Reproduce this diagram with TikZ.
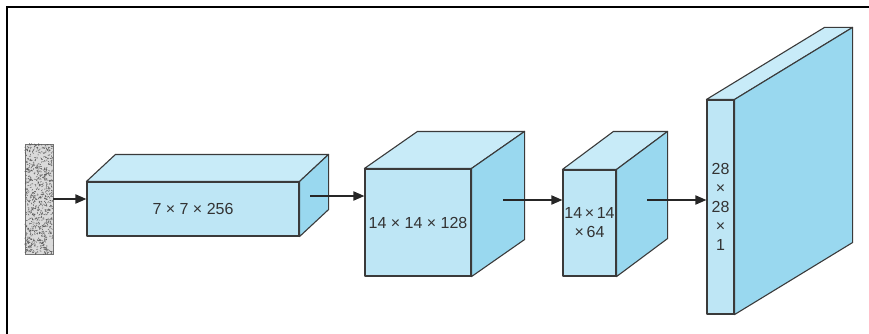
\documentclass[tikz,border=0pt]{standalone}
\usepackage{fontspec}
\setmainfont{Liberation Sans}
\usetikzlibrary{arrows.meta}
\definecolor{frontblue}{HTML}{BEE6F5}
\definecolor{topblue}{HTML}{C8EBF8}
\definecolor{sideblue}{HTML}{99D8EF}
\definecolor{edgegray}{HTML}{3A3A3A}
\definecolor{labelgray}{HTML}{333333}
\definecolor{grainbase}{HTML}{DADADA}

% top and side faces of a cuboid whose front face is node #1,
% receding by the offset (#2,#3)
\newcommand\depthfaces[3]{%
  \draw[face, fill=topblue] (#1.north west) -- ++(#2,#3)
    -- ([shift={(#2,#3)}]#1.north east) -- (#1.north east) -- cycle;
  \draw[face, fill=sideblue] (#1.north east) -- ++(#2,#3)
    -- ([shift={(#2,#3)}]#1.south east) -- (#1.south east) -- cycle;
}

\begin{document}
\begin{tikzpicture}[x=1pt,y=-1pt,
  face/.style={draw=edgegray, line width=1.1pt, line join=round},
  front/.style={face, fill=frontblue, rectangle, inner sep=0pt,
    text=labelgray, align=center, font=\fontsize{16}{19}\selectfont},
  conn/.style={line width=1.8pt, draw=black!85,
    -{Triangle[length=11pt,width=9pt]}}]
\useasboundingbox (0,0) rectangle (869,334);

% frame
\draw[line width=2.2pt] (7,340) -- (7,7) -- (875,7);

% grainy input image
\node[draw=black!55, fill=grainbase, line width=0.8pt, inner sep=0pt,
  minimum width=28pt, minimum height=110pt] (input) at (39,199) {};
\begin{scope}
  \clip (input.south west) rectangle (input.north east);
  \pgfmathsetseed{4711}
  \foreach \i in {1,...,700}{
    \pgfmathsetmacro\px{25+28*rnd}
    \pgfmathsetmacro\py{144+110*rnd}
    \pgfmathsetmacro\pa{360*rnd}
    \draw[black!65, line width=0.5pt] (\px,\py) -- ++(\pa:1.6pt);
  }
\end{scope}

% layer 1
\node[front, minimum width=212pt, minimum height=54pt] (b1) at (193,209) {7 × 7 × 256};
\depthfaces{b1}{29}{-27}

% layer 2
\node[front, minimum width=106pt, minimum height=107pt] (b2) at (418,222.5) {14 × 14 × 128};
\depthfaces{b2}{53}{-37}

% layer 3
\node[front, minimum width=53pt, minimum height=106pt] (b3) at (589.5,223) {14\,×\,14\\×\,64};
\depthfaces{b3}{51}{-38}

% output layer
\node[front, minimum width=27pt, minimum height=214pt] (b4) at (720.5,207) {28\\×\\28\\×\\1};
\depthfaces{b4}{118}{-72}

% arrow tails inside the side faces
\coordinate (t2) at (310,196);
\coordinate (t3) at (503,200);
\coordinate (t4) at (647,200);

\draw[conn] (input.east) -- (input.east -| b1.west);
\draw[conn] (t2) -- (t2 -| b2.west);
\draw[conn] (t3) -- (t3 -| b3.west);
\draw[conn] (t4) -- (t4 -| b4.west);
\end{tikzpicture}
\end{document}
